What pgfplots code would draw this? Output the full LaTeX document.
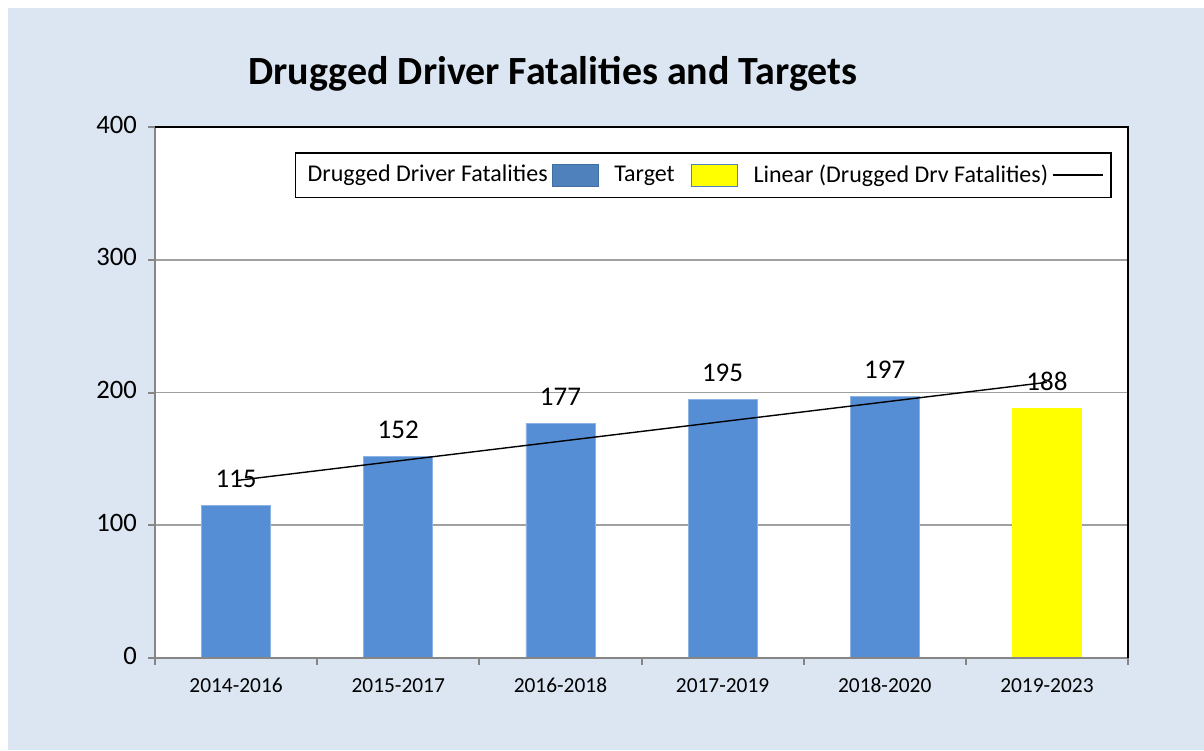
\documentclass[border=0pt]{standalone}
\usepackage{pgfplots}
\pgfplotsset{compat=1.18}
\usepackage{fontspec}
\setmainfont{Carlito}
\definecolor{bgblue}{RGB}{220,230,242}
\definecolor{barblue}{RGB}{85,142,213}
\definecolor{baredge}{RGB}{141,179,226}
\definecolor{legblue}{RGB}{79,129,189}
\definecolor{gridgray}{RGB}{160,160,160}
\definecolor{axgray}{RGB}{134,134,134}
\definecolor{tyellow}{RGB}{255,255,0}
\begin{document}
\begin{tikzpicture}
\fill[white] (0,0) rectangle (602pt,375pt);
\fill[bgblue] (4pt,0) rectangle (602pt,371pt);
\begin{axis}[
  at={(77.5pt,46pt)}, anchor=south west,
  scale only axis, width=486.5pt, height=265.5pt,
  xmin=0.5, xmax=6.5, ymin=0, ymax=400,
  /pgf/number format/assume math mode=true,
  axis background/.style={fill=white},
  axis line style={draw=none},
  xtick={1,2,3,4,5,6},
  xticklabels={2014-2016,2015-2017,2016-2018,2017-2019,2018-2020,2019-2023},
  typeset ticklabels with strut,
  major x tick style={draw=none},
  minor xtick={0.5,1.5,2.5,3.5,4.5,5.5,6.5},
  minor x tick style={axgray, line width=1pt},
  ytick={0,100,200,300,400},
  y tick style={axgray, line width=1pt},
  tick align=outside,
  major tick length=3.5pt, minor tick length=3.5pt,
  xtick pos=bottom, ytick pos=left,
  ymajorgrids, grid style={gridgray, line width=0.8pt},
  xticklabel style={font=\fontsize{10.7}{12}\selectfont, yshift=-2pt},
  yticklabel style={font=\fontsize{13.3}{15}\selectfont, xshift=-2pt},
  title={Drugged Driver Fatalities and Targets},
  title style={at={(0.409,1)}, anchor=base, yshift=15.5pt, font=\bfseries\fontsize{20}{24}\selectfont},
  legend plot pos=right,
  legend columns=-1,
  legend style={at={(0.5637,0.953)}, anchor=north, draw=black, line width=0.8pt,
    font=\fontsize{12}{14}\selectfont, inner ysep=4pt, inner xsep=4pt,
    /tikz/every even column/.append style={column sep=6pt}},
  clip=false,
]
\addplot[ybar, bar width=34.5pt, bar shift=0pt, fill=barblue, draw=baredge, line width=0.4pt,
  nodes near coords, every node near coord/.append style={font=\fontsize{13.5}{15}\selectfont, black, anchor=base, inner sep=0pt, yshift=9pt},
  legend image code/.code={\draw[fill=legblue, draw=legblue!85!black, line width=0.4pt] (0pt,-5.5pt) rectangle (23pt,5.5pt);}]
  coordinates {(1,115) (2,152) (3,177) (4,195) (5,197)};
\addlegendentry{Drugged Driver Fatalities}
\addplot[ybar, bar width=34.5pt, bar shift=0pt, fill=tyellow, draw=tyellow, line width=0.4pt,
  nodes near coords, every node near coord/.append style={font=\fontsize{13.5}{15}\selectfont, black, anchor=base, inner sep=0pt, yshift=9pt},
  legend image code/.code={\draw[fill=tyellow, draw=legblue, line width=0.4pt] (0pt,-5.5pt) rectangle (23pt,5.5pt);}]
  coordinates {(6,188)};
\addlegendentry{Target\hspace*{6pt}}
\addplot[black, line width=0.7pt,
  legend image code/.code={\draw[black, line width=0.6pt] (0pt,0pt) -- (25pt,0pt);}]
  coordinates {(1,133.67) (6,207.67)};
\addlegendentry{Linear (Drugged Drv Fatalities)}
\draw[axgray, line width=1pt] (rel axis cs:0,1) -- (rel axis cs:0,0) -- (rel axis cs:1,0);
\draw[black, line width=1pt] (rel axis cs:0,1) -- (rel axis cs:1,1) -- (rel axis cs:1,0);
\end{axis}
\end{tikzpicture}
\end{document}
